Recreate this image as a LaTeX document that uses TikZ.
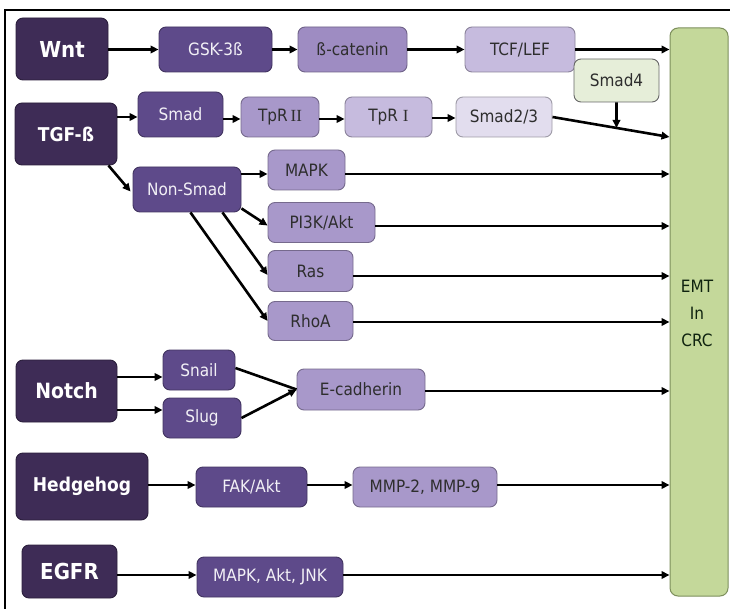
\documentclass[tikz,border=0pt]{standalone}
\usepackage{fontspec}
\setmainfont{DejaVu Sans Condensed}
\newfontfamily\romfont{Liberation Serif}
\usetikzlibrary{arrows.meta}
\definecolor{cdark}{HTML}{3E2C56}
\definecolor{cmed}{HTML}{5E4A8A}
\definecolor{clight}{HTML}{A898CA}
\definecolor{clighter}{HTML}{C6BBDE}
\definecolor{clightest}{HTML}{E2DDEE}
\definecolor{cbcat}{HTML}{9E8CC2}
\definecolor{csmadf}{HTML}{E6EED9}
\definecolor{cemt}{HTML}{C4D89A}
\definecolor{cemtd}{HTML}{7D8F5C}
\definecolor{ctxt}{HTML}{2E2E2E}
\tikzset{
  bx/.style={draw=#1!70!black, line width=0.9pt, rounded corners=7pt, inner sep=0pt, font=\fontsize{17}{19}\selectfont},
  titlebox/.style={bx=cdark, fill=cdark, text=white, font=\fontsize{22}{24}\selectfont\bfseries},
  medbox/.style={bx=cmed, fill=cmed, text=white!92!cmed},
  ltbox/.style={bx=clight, fill=clight, text=ctxt},
  arr/.style={line width=2.6pt, -{Triangle[length=8pt,width=7.5pt]}},
  ln/.style={line width=2.6pt}
}
\begin{document}
\begin{tikzpicture}[x=1pt,y=-1pt]
\useasboundingbox (0,0) rectangle (730,609);
\fill[white] (0,0) rectangle (730,609);
\draw[line width=2pt] (5,620) -- (5,10) -- (740,10);
% EMT
\node[draw=cemtd, fill=cemt, line width=1pt, rounded corners=8pt, minimum width=58pt, minimum height=568pt] (emt) at (699,312) {};
\node[text=ctxt!80!green!40!black, align=center, font=\fontsize{17}{27}\selectfont] (emtt) at (697,313) {EMT\\In\\CRC};
% Wnt row
\node[titlebox, minimum width=92pt, minimum height=62pt] (wnt) at (62,49) {Wnt};
\node[medbox, minimum width=113pt, minimum height=45pt] (gsk) at (215.5,49.5) {GSK-3ß};
\node[bx=cbcat, fill=cbcat, text=ctxt, minimum width=109pt, minimum height=45pt] (bcat) at (352.5,49.5) {ß-catenin};
\node[bx=clighter, fill=clighter, text=ctxt, minimum width=110pt, minimum height=45pt] (tcf) at (520,49.5) {TCF/LEF};
\node[draw=black!60, fill=csmadf, line width=0.9pt, rounded corners=7pt, text=ctxt, font=\fontsize{17}{19}\selectfont, minimum width=85pt, minimum height=43pt] (smad4) at (616.5,80.5) {Smad4};
% TGF row
\node[titlebox, minimum width=102pt, minimum height=62pt, font=\fontsize{19}{22}\selectfont\bfseries] (tgf) at (66,134) {TGF-ß};
\node[medbox, minimum width=85pt, minimum height=45pt] (smad) at (180.5,114.5) {Smad};
\node[ltbox, minimum width=78pt, minimum height=40pt] (tpr2) at (280,117) {TpR\,{\romfont II}};
\node[bx=clighter, fill=clighter, text=ctxt, minimum width=87pt, minimum height=40pt] (tpr1) at (388.5,117) {TpR {\romfont I}};
\node[bx=clightest, fill=clightest, text=ctxt, minimum width=96pt, minimum height=40pt] (smad23) at (504,117) {Smad2/3};
\node[medbox, minimum width=108pt, minimum height=45pt] (nonsmad) at (187,189.5) {Non-Smad};
\node[ltbox, minimum width=77pt, minimum height=40pt] (mapk) at (306.5,170) {MAPK};
\node[ltbox, minimum width=107pt, minimum height=40pt] (pi3k) at (321.5,222.5) {PI3K/Akt};
\node[ltbox, minimum width=85pt, minimum height=41pt] (ras) at (310.5,271) {Ras};
\node[ltbox, minimum width=85pt, minimum height=39pt] (rhoa) at (310.5,321) {RhoA};
% Notch
\node[titlebox, minimum width=101pt, minimum height=62pt, font=\fontsize{21}{24}\selectfont\bfseries] (notch) at (66.5,391) {Notch};
\node[medbox, minimum width=72pt, minimum height=40pt] (snail) at (199,370) {Snail};
\node[medbox, minimum width=78pt, minimum height=40pt] (slug) at (202,418) {Slug};
\node[ltbox, minimum width=128pt, minimum height=41pt] (ecad) at (361,389.5) {E-cadherin};
% Hedgehog
\node[titlebox, minimum width=132pt, minimum height=67pt, font=\fontsize{19}{22}\selectfont\bfseries] (hh) at (82,486.5) {Hedgehog};
\node[medbox, minimum width=111pt, minimum height=40pt] (fak) at (251.5,487) {FAK/Akt};
\node[ltbox, minimum width=144pt, minimum height=40pt] (mmp) at (425,487) {MMP-2, MMP-9};
% EGFR
\node[titlebox, minimum width=95pt, minimum height=53pt] (egfr) at (69.5,571.5) {EGFR};
\node[medbox, minimum width=146pt, minimum height=40pt] (mak) at (270,577) {MAPK, Akt, JNK};
% arrows Wnt
\draw[arr] (wnt.east |- 0,49.5) -- (gsk.west);
\draw[arr] (gsk) -- (bcat);
\draw[arr] (bcat) -- (tcf);
\draw[arr] (tcf.east) -- (tcf.east -| emt.west);
% TGF
\draw[arr] (tgf.east |- 0,117) -- (smad.west |- 0,117);
\draw[arr] (smad.east |- 0,119) -- (tpr2.west |- 0,119);
\draw[arr] (tpr2.east |- 0,119) -- (tpr1.west |- 0,119);
\draw[arr] (tpr1.east |- 0,118) -- (smad23.west |- 0,118);
\coordinate (e23) at (emt.west |- 0,137);
\draw[arr] (smad23.east) -- (e23) coordinate[pos=0.547] (s4m);
\draw[arr] (smad4.south) -- (s4m);
\draw[arr] ([xshift=-9pt]tgf.south east) -- ([xshift=-2pt,yshift=-2pt]nonsmad.west);
\draw[arr] (nonsmad.east |- 0,174) -- (mapk.west |- 0,174);
\draw[arr] (mapk.east |- 0,174) -- (emt.west |- 0,174);
\draw[arr] ([yshift=4pt]nonsmad.south east) -- ([yshift=-3pt]pi3k.west);
\draw[arr] (pi3k.east |- 0,226) -- (emt.west |- 0,226);
\draw[arr] ([xshift=-19pt]nonsmad.south east) -- ([yshift=-4pt]ras.west);
\draw[arr] (ras.east |- 0,276) -- (emt.west |- 0,276);
\draw[arr] ([xshift=-51pt]nonsmad.south east) -- (rhoa.west);
\draw[arr] (rhoa.east |- 0,322) -- (emt.west |- 0,322);
% Notch
\draw[arr] (notch.east |- 0,377) -- (snail.west |- 0,377);
\draw[arr] (notch.east |- 0,410) -- (slug.west |- 0,410);
\draw[ln] ([yshift=2pt]snail.east) -- (ecad.west);
\draw[arr] (slug.east) -- (ecad.west);
\draw[arr] (ecad.east |- 0,391) -- (emt.west |- 0,391);
% Hedgehog
\draw[arr] (hh.east |- 0,485) -- (fak.west |- 0,485);
\draw[arr] (fak.east |- 0,485) -- (mmp.west |- 0,485);
\draw[arr] (mmp.east |- 0,485) -- (emt.west |- 0,485);
% EGFR
\draw[arr] (egfr.east |- 0,575) -- (mak.west |- 0,575);
\draw[arr] (mak.east |- 0,575) -- (emt.west |- 0,575);
\end{tikzpicture}
\end{document}
